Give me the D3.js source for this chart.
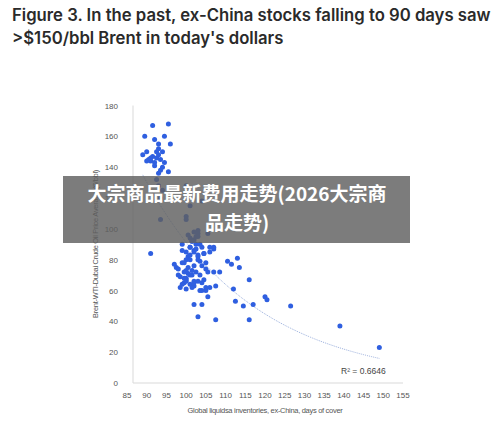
<!DOCTYPE html>
<html><head><meta charset="utf-8">
<script src="https://cdn.jsdelivr.net/npm/d3@7"></script>
<style>body{margin:0;background:#fff;}svg{display:block;}</style>
</head><body>
<svg id="c" width="500" height="421"></svg>
<script>
const xTicks=[85,90,95,100,105,110,115,120,125,130,135,140,145,150,155];
const yTicks=[0,20,40,60,80,100,120,140,160,180];
const xs=[89.5,91.5,92,95.5,94.5,96,89,90,90.5,91,91.5,92,92.5,93,93,93.5,94,94,94.5,92,91,90,93,92.5,93.5,93,95.5,93,93.5,91,93.5,92.5,94,
100,100,100,101,104,102,103,
110.5,111.5,113,113.5,112,112.5,114.5,116,116,117,120,120.5,126.5,139,149,108.5,107,107.5,105.5,104,102,103,107.5,106,105,106,107,107,
97,97.5,98,98,98.5,99,99,99.5,99.5,100,100,100,100.5,100.5,101,101,101,101.5,101.5,102,102,102,102.5,102.5,103,103,103,103.5,103.5,104,104,104.5,104.5,105,105,105.5,99,99.5,100,100.5,101,101.5,102,102.5,103,103.5,104,100,101,102,103,100.5,101.5,102.5,99,98.5,105,104,106,100,101,102,103,99.5,101,102,103.5,100,101.5,104.5,105.5];
const ys=[160,167,158,168,160,155,148,150,145,144,147,143,150,148,152,145,150,140,143,141,146,144,155,146,138,136,137,128,106,84,120,132,125,
128,108,106,115,118,98,97,
79,77,81,75,61,53,50,67,41,51,56,54,50,37,23,72,72,63,56,51,51,43,41,62,60,85,87,88,
77,75,74,70,62,90,78,72,65,85,80,68,82,75,88,80,64,92,70,85,76,63,90,72,83,66,95,79,70,88,60,84,67,78,62,72,64,68,61,96,83,73,66,95,82,60,76,67,94,86,80,71,92,87,86,69,74,65,88,66,70,93,99,78,88,65,90,73,62,84,97,91,75,63];

const svg=d3.select("#c");
const ff="'Liberation Sans',Arial,sans-serif";
svg.append("text").attr("x",12).attr("y",21).attr("font-family","Inter,'Open Sans',sans-serif").attr("font-weight",600).attr("font-size",16.7).attr("fill","#2a2a2a").text("Figure 3. In the past, ex-China stocks falling to 90 days saw");
svg.append("text").attr("x",12).attr("y",44).attr("font-family","Inter,'Open Sans',sans-serif").attr("font-weight",600).attr("font-size",16.7).attr("fill","#2a2a2a").text(">$150/bbl Brent in today's dollars");

const x=d3.scaleLinear().domain([85,155]).range([127,403]);
const y=d3.scaleLinear().domain([0,180]).range([383,105.5]);
const g=svg.append("g");
g.append("line").attr("x1",x(85)+6).attr("x2",x(155)).attr("y1",y(0)).attr("y2",y(0)).attr("stroke","#d9d9d9");
g.append("line").attr("x1",x(85)+6).attr("x2",x(85)+6).attr("y1",y(0)).attr("y2",y(180)).attr("stroke","#d9d9d9");
g.selectAll(".xt").data(xTicks).join("text").attr("x",d=>x(d)).attr("y",398).attr("text-anchor","middle").attr("font-family",ff).attr("font-size",8).attr("fill","#555").text(d=>d);
g.selectAll(".yt").data(yTicks).join("text").attr("x",118).attr("y",d=>y(d)+3).attr("text-anchor","end").attr("font-family",ff).attr("font-size",8).attr("fill","#555").text(d=>d);
svg.append("text").attr("transform","translate(98,244) rotate(-90)").attr("text-anchor","middle").attr("font-family",ff).attr("font-size",7.5).attr("fill","#555").attr("letter-spacing",-0.3).text("Brent-WTI-Dubai Crude Oil Price Average ($/bbl)");
svg.append("text").attr("x",265).attr("y",413).attr("text-anchor","middle").attr("font-family",ff).attr("font-size",7.5).attr("fill","#555").attr("letter-spacing",-0.3).text("Global liquidsa inventories, ex-China, days of cover");

const a=135*Math.exp(0.0356*89), b=-0.0356;
const tx=d3.range(89,149.01,0.5);
g.append("path").datum(tx).attr("fill","none").attr("stroke","#8fa6d8").attr("stroke-width",0.9).attr("stroke-dasharray","1,1")
 .attr("d",d3.line().x(d=>x(d)).y(d=>y(a*Math.exp(b*d))));
g.selectAll("circle").data(xs.map((v,i)=>[v,ys[i]])).join("circle").attr("cx",d=>x(d[0])).attr("cy",d=>y(d[1])).attr("r",2.5).attr("fill","#2f5fe0");
svg.append("text").attr("x",341).attr("y",374).attr("font-family",ff).attr("font-size",8.5).attr("fill","#444").text("R² = 0.6646");

svg.append("rect").attr("x",63).attr("y",176).attr("width",347).attr("height",67).attr("fill","rgba(95,95,95,0.82)");
const bf="'Noto Sans CJK SC',sans-serif";
svg.append("text").attr("x",237).attr("y",201).attr("text-anchor","middle").attr("font-family",bf).attr("font-weight",700).attr("font-size",19).attr("fill","#fff").text("大宗商品最新费用走势(2026大宗商");
svg.append("text").attr("x",237).attr("y",230).attr("text-anchor","middle").attr("font-family",bf).attr("font-weight",700).attr("font-size",19).attr("fill","#fff").text("品走势)");
</script></body></html>
